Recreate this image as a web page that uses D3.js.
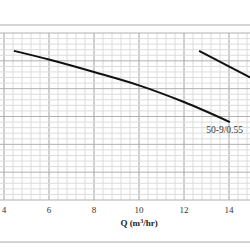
<!DOCTYPE html>
<html>
<head>
<meta charset="utf-8">
<script src="https://cdn.jsdelivr.net/npm/d3@7"></script>
<style>
  body { margin: 0; background: #fff; }
  .tick_label { font-family: "Liberation Serif", "DejaVu Serif", serif; font-size: 9px; fill: #333; }
  .curve_label { font-family: "Liberation Serif", "DejaVu Serif", serif; font-size: 9.5px; fill: #333; }
  .axis_label { font-family: "Liberation Serif", "DejaVu Serif", serif; font-size: 9px; font-weight: bold; fill: #222; }
</style>
</head>
<body>
<div class="pump_chart"></div>
<script>
// curve data (Q in m3/hr, H arbitrary head units)
const curveA_Q = [4.44, 6.04, 8.0, 10.0, 12.0, 14.04]
const curveA_H = [26.8, 25.2, 23.0, 20.6, 17.6, 14.0]
const curveB_Q = [12.67, 15.0]
const curveB_H = [26.8, 21.9]
const xTicks = [4, 6, 8, 10, 12, 14]
const curveName = "50-9/0.55"

const width = 250
const height = 250

const svg = d3.select(".pump_chart")
    .append("svg")
    .attr("width", width)
    .attr("height", height)

const x = d3.scaleLinear().domain([4, 14]).range([4, 229])
const y = d3.scaleLinear().domain([0, 30]).range([200, 33])

// frame lines above and below
svg.append("line")
    .attr("x1", 0).attr("x2", width).attr("y1", 25).attr("y2", 25)
    .attr("stroke", "#d4d4d4").attr("stroke-width", 2)
svg.append("line")
    .attr("x1", 0).attr("x2", width).attr("y1", 242).attr("y2", 242)
    .attr("stroke", "#d4d4d4").attr("stroke-width", 2)

const grid = svg.append("g")

// vertical grid lines, every 0.4
const vLines = d3.range(0, 30).map(i => 3.2 + i * 0.4).filter(v => x(v) >= 0 && x(v) <= width)
grid.selectAll(".v_line")
    .data(vLines)
    .join("line")
    .attr("class", "v_line")
    .attr("x1", d => x(d)).attr("x2", d => x(d))
    .attr("y1", y(30)).attr("y2", y(0))
    .attr("stroke", d => Math.abs(d / 2 - Math.round(d / 2)) < 0.01 ? "#a0a0a0" : "#dcdcdc")
    .attr("stroke-width", 1)

// horizontal grid lines
const hLines = d3.range(0, 31)
grid.selectAll(".h_line")
    .data(hLines)
    .join("line")
    .attr("class", "h_line")
    .attr("x1", 0).attr("x2", width)
    .attr("y1", d => y(d)).attr("y2", d => y(d))
    .attr("stroke", d => d % 5 == 0 ? "#b0b0b0" : "#dcdcdc")
    .attr("stroke-width", 1)

// tick labels
svg.selectAll(".tick_label")
    .data(xTicks)
    .join("text")
    .attr("class", "tick_label")
    .attr("x", d => x(d))
    .attr("y", 213)
    .attr("text-anchor", "middle")
    .text(d => d)

// axis title
const title = svg.append("text")
    .attr("class", "axis_label")
    .attr("x", x(10))
    .attr("y", 226)
    .attr("text-anchor", "middle")
title.append("tspan").text("Q (m")
title.append("tspan").attr("dy", -3).attr("font-size", "6px").text("3")
title.append("tspan").attr("dy", 3).text("/hr)")

// curves
const line = d3.line()
    .x(d => x(d[0]))
    .y(d => y(d[1]))
    .curve(d3.curveMonotoneX)

svg.append("path")
    .datum(d3.zip(curveA_Q, curveA_H))
    .attr("d", line)
    .attr("fill", "none")
    .attr("stroke", "#111")
    .attr("stroke-width", 2)

svg.append("path")
    .datum(d3.zip(curveB_Q, curveB_H))
    .attr("d", line)
    .attr("fill", "none")
    .attr("stroke", "#111")
    .attr("stroke-width", 2)

svg.append("text")
    .attr("class", "curve_label")
    .attr("x", 243)
    .attr("y", 133)
    .attr("text-anchor", "end")
    .text(curveName)
</script>
</body>
</html>
